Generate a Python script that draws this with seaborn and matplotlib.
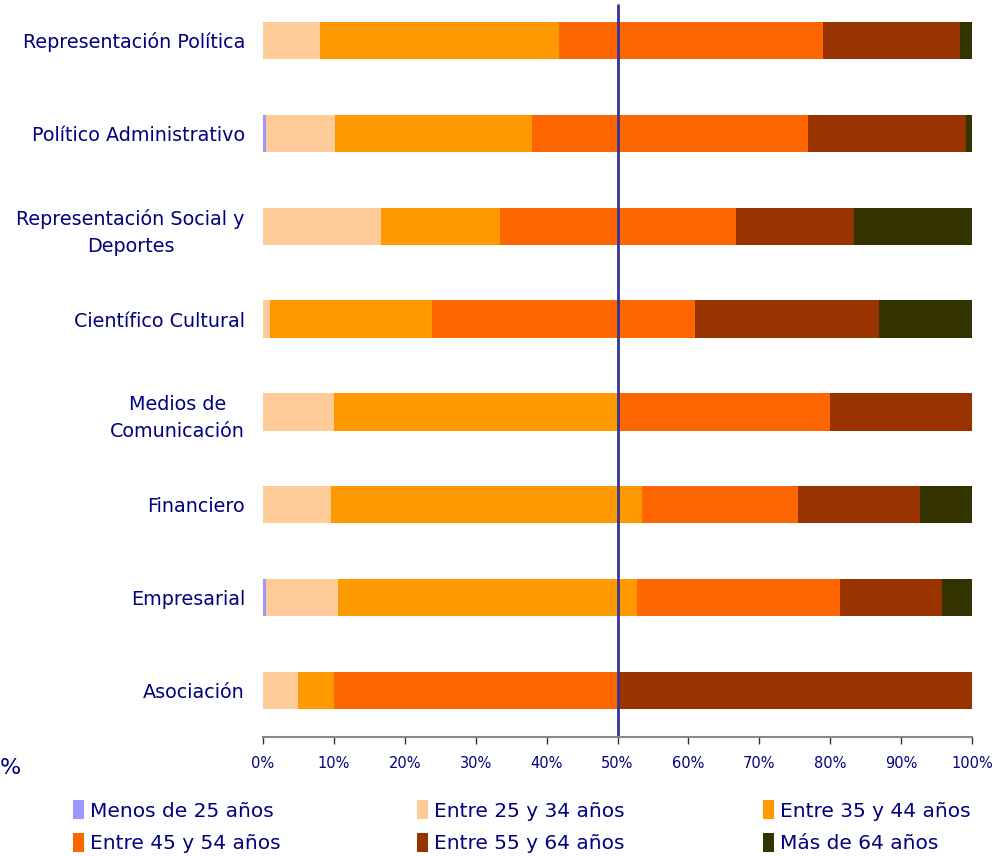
import matplotlib.pyplot as plt
import seaborn as sns
import numpy as np
import pandas as pd
from matplotlib.patches import Patch

sns.set_theme(style="white")
plt.rcParams['font.family'] = ['DejaVu Sans']

# Data (percent shares per sector and age group)
categories = ['Representación Política', 'Político Administrativo',
              'Representación Social y\nDeportes', 'Científico Cultural',
              'Medios de\nComunicación', 'Financiero', 'Empresarial', 'Asociación']
age_groups = ['Menos de 25 años', 'Entre 25 y 34 años', 'Entre 35 y 44 años',
              'Entre 45 y 54 años', 'Entre 55 y 64 años', 'Más de 64 años']
menos_25 = [0.0, 0.4, 0.0, 0.0, 0.0, 0.0, 0.4, 0.0]
entre_25_34 = [8.0, 9.7, 16.7, 1.0, 10.0, 9.6, 10.2, 5.0]
entre_35_44 = [33.8, 27.8, 16.7, 22.9, 40.0, 43.9, 42.2, 5.0]
entre_45_54 = [37.2, 38.9, 33.3, 37.0, 30.0, 22.0, 28.6, 40.0]
entre_55_64 = [19.3, 22.3, 16.7, 26.0, 20.0, 17.1, 14.3, 50.0]
mas_64 = [1.7, 0.9, 16.6, 13.1, 0.0, 7.4, 4.3, 0.0]
colors = ['#9999FF', '#FFCC99', '#FF9900', '#FF6600', '#993300', '#333300']

values = np.array([menos_25, entre_25_34, entre_35_44, entre_45_54, entre_55_64, mas_64]).T
cum = np.cumsum(values, axis=1)
df = pd.DataFrame(cum, columns=age_groups)
df['categoria'] = categories

navy = '#000080'
fig = plt.figure(figsize=(9.94, 8.56), dpi=100)
ax = fig.add_axes([263 / 994, 1 - 737 / 856, 709 / 994, 743 / 856])

# stacked bars: draw cumulative totals back to front
for i in reversed(range(len(age_groups))):
    sns.barplot(data=df, x=age_groups[i], y='categoria', color=colors[i],
                saturation=1, width=0.4, linewidth=0, orient='h', ax=ax)

ax.axvline(50, ymin=0, ymax=(737 - 5) / 743, color='#333399', lw=2)

ax.set_xlim(0, 100)
ax.set_xticks(np.arange(0, 101, 10))
ax.set_xticklabels([f'{t}%' for t in range(0, 101, 10)], color=navy, fontsize=10.5)
ax.set_xlabel('')
ax.set_ylabel('')
ax.tick_params(axis='x', direction='out', length=5, width=1, color='#333333', pad=9, bottom=True)
ax.tick_params(axis='y', length=0, pad=13)
for lbl in ax.get_yticklabels():
    lbl.set_color(navy)
    lbl.set_fontsize(13.8)
    lbl.set_multialignment('center')
    lbl.set_linespacing(1.55)
for s in ['top', 'right', 'left']:
    ax.spines[s].set_visible(False)
ax.spines['bottom'].set_color('#888888')
ax.spines['bottom'].set_linewidth(1.5)
ax.grid(False)

fig.text(0.0, 1 - 768 / 856, '%', color=navy, fontsize=16, va='center', ha='left')

# legend: three columns, row-wise order
handles = [Patch(facecolor=c, edgecolor='none') for c in colors]
col_x = [73, 417, 763]
for col in range(3):
    idx = [col, col + 3]
    fig.legend([handles[j] for j in idx], [age_groups[j] for j in idx],
               loc='upper left', bbox_to_anchor=(col_x[col] / 994, 1 - 800 / 856),
               frameon=False, fontsize=14.5, labelcolor=navy,
               handlelength=0.55, handleheight=1.1, handletextpad=0.3,
               labelspacing=0.6, borderpad=0, borderaxespad=0)

fig.savefig('out.png', dpi=100)
